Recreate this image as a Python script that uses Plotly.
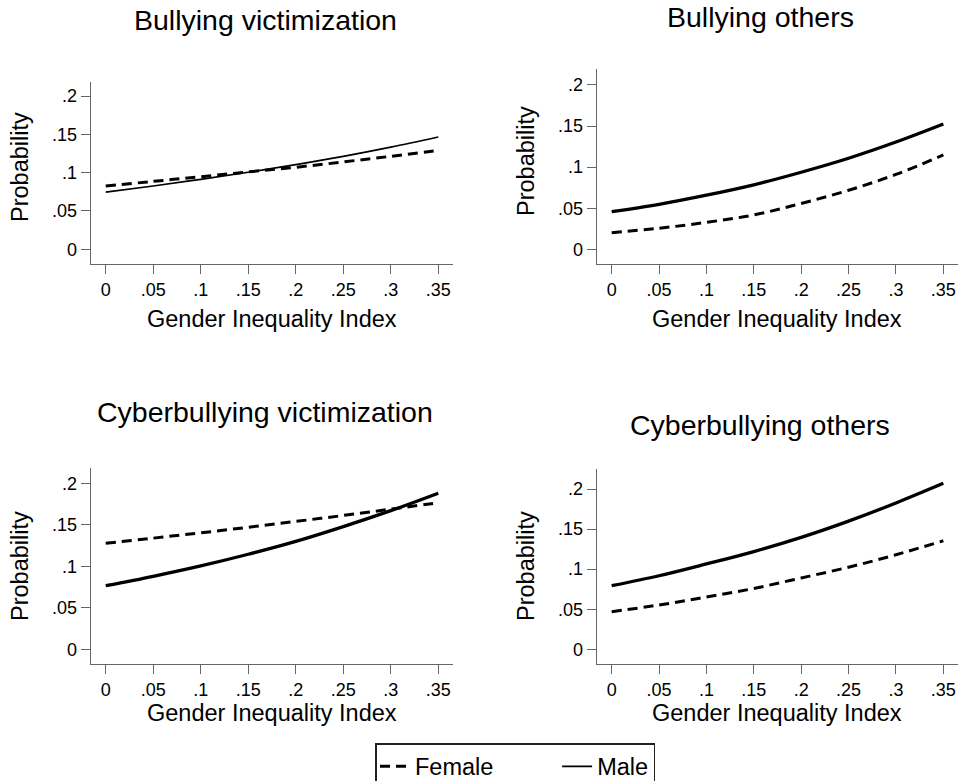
import plotly.graph_objects as go

# ---------------- data ----------------
gii = [0, 0.05, 0.10, 0.15, 0.20, 0.25, 0.30, 0.35]
x_tick_vals = [0, 0.05, 0.10, 0.15, 0.20, 0.25, 0.30, 0.35]
x_tick_text = ["0", ".05", ".1", ".15", ".2", ".25", ".3", ".35"]
y_tick_vals = [0, 0.05, 0.10, 0.15, 0.20]
y_tick_text = ["0", ".05", ".1", ".15", ".2"]

panel_titles = ["Bullying victimization", "Bullying others",
                "Cyberbullying victimization", "Cyberbullying others"]
series_names = ["Female", "Male"]

bully_vict_female = [0.0826, 0.0886, 0.0947, 0.1010, 0.1070, 0.1140, 0.1213, 0.1290]
bully_vict_male = [0.0745, 0.0826, 0.0913, 0.1005, 0.1105, 0.1213, 0.1333, 0.1465]

bully_oth_female = [0.0202, 0.0256, 0.0328, 0.0418, 0.0558, 0.0718, 0.0912, 0.1148]
bully_oth_male = [0.0458, 0.0548, 0.0659, 0.0785, 0.0938, 0.1108, 0.1305, 0.1525]

cyber_vict_female = [0.1277, 0.1339, 0.1403, 0.1470, 0.1540, 0.1612, 0.1688, 0.1766]
cyber_vict_male = [0.0766, 0.0880, 0.1005, 0.1145, 0.1300, 0.1478, 0.1670, 0.1880]

cyber_oth_female = [0.0469, 0.0553, 0.0652, 0.0760, 0.0890, 0.1025, 0.1180, 0.1355]
cyber_oth_male = [0.0794, 0.0918, 0.1065, 0.1220, 0.1397, 0.1600, 0.1826, 0.2071]

female_series = [bully_vict_female, bully_oth_female, cyber_vict_female, cyber_oth_female]
male_series = [bully_vict_male, bully_oth_male, cyber_vict_male, cyber_oth_male]

# ---------------- layout geometry ----------------
W, H = 959, 781
FONT = "Liberation Sans, Arial, Helvetica, sans-serif"
x_domains = [[0.0946, 0.4724], [0.6222, 0.9990], [0.0946, 0.4724], [0.6222, 0.9990]]
y_domains = [[0.6620, 0.8950], [0.6620, 0.9117], [0.1494, 0.4004], [0.1494, 0.3995]]
y_ranges = [[-0.0192, 0.2183], [-0.0179, 0.2195], [-0.0180, 0.2180], [-0.0187, 0.2250]]
x_range = [-0.0158, 0.3655]
male_widths = [1.7, 3.3, 3.3, 3.3]
female_widths = [3.0, 3.0, 3.0, 3.0]
NBSP = "\u00a0"

fig = go.Figure()
for i in range(4):
    sfx = "" if i == 0 else str(i + 1)
    fig.add_trace(go.Scatter(
        x=gii, y=female_series[i], mode="lines", name=series_names[0] + NBSP * 9,
        line=dict(color="black", width=female_widths[i], dash="10px,6px", shape="spline"),
        xaxis="x" + sfx, yaxis="y" + sfx, showlegend=(i == 0), legendgroup="f"))
    fig.add_trace(go.Scatter(
        x=gii, y=male_series[i], mode="lines", name=series_names[1],
        line=dict(color="black", width=male_widths[i], shape="spline"),
        xaxis="x" + sfx, yaxis="y" + sfx, showlegend=(i == 0), legendgroup="m"))

axis_common = dict(showline=True, linecolor="#666666", linewidth=1.3, ticks="outside",
                   ticklen=9, tickwidth=1.3, tickcolor="#666666", showgrid=False,
                   zeroline=False, tickfont=dict(family=FONT, size=18, color="black"))
layout = dict(width=W, height=H, margin=dict(l=0, r=0, t=0, b=0, autoexpand=False),
              paper_bgcolor="white", plot_bgcolor="white",
              font=dict(family=FONT, color="black"))
for i in range(4):
    sfx = "" if i == 0 else str(i + 1)
    layout["xaxis" + sfx] = dict(domain=x_domains[i], range=x_range, anchor="y" + sfx,
                                 tickvals=x_tick_vals, ticktext=x_tick_text, **axis_common)
    layout["yaxis" + sfx] = dict(domain=y_domains[i], range=y_ranges[i], anchor="x" + sfx,
                                 tickvals=y_tick_vals, ticktext=y_tick_text, **axis_common)
fig.update_layout(**layout)

# titles
title_pos = [(265, 20), (760, 17), (265, 412), (760, 425)]
for t, (px, py) in zip(panel_titles, title_pos):
    fig.add_annotation(text=t, x=px / W, y=1 - py / H, xref="paper", yref="paper",
                       showarrow=False, xanchor="center", yanchor="middle",
                       font=dict(family=FONT, size=28.5, color="black"))

# axis titles
xt_pos = [(272, 319), (777, 319), (272, 713), (777, 713)]
for px, py in xt_pos:
    fig.add_annotation(text="Gender Inequality Index", x=px / W, y=1 - py / H,
                       xref="paper", yref="paper", showarrow=False,
                       xanchor="center", yanchor="middle",
                       font=dict(family=FONT, size=23.5, color="black"))
yt_pos = [(20, 167), (526, 161), (20, 566), (526, 566)]
for px, py in yt_pos:
    fig.add_annotation(text="Probability", x=px / W, y=1 - py / H, textangle=-90,
                       xref="paper", yref="paper", showarrow=False,
                       xanchor="center", yanchor="middle",
                       font=dict(family=FONT, size=23.5, color="black"))

fig.update_layout(legend=dict(orientation="h", x=375 / W, xanchor="left",
                              y=1 - 743 / H, yanchor="top",
                              bordercolor="#222222", borderwidth=1.5, bgcolor="white",
                              font=dict(family=FONT, size=23.5, color="black")))

fig.write_html("out.html", config={"displayModeBar": False},
               post_script="document.body.style.margin='0px';document.body.style.overflow='hidden';")
